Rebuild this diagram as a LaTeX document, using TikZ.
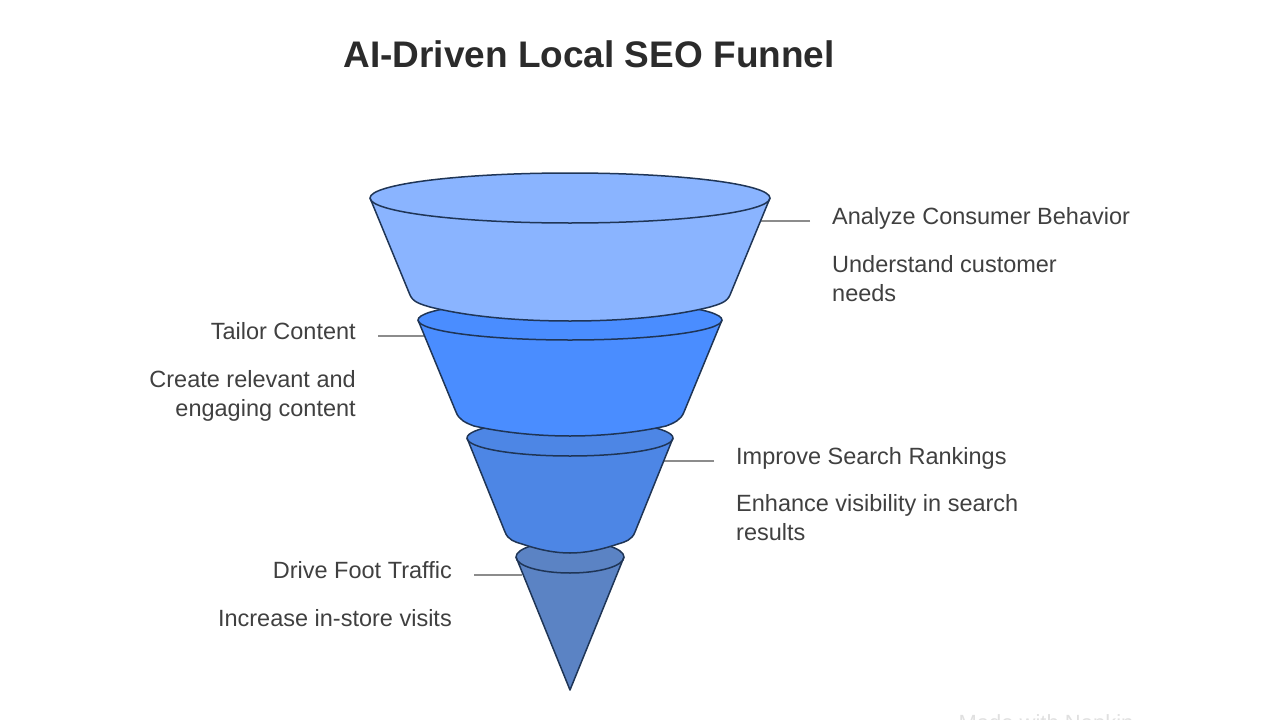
\documentclass[tikz,border=0pt]{standalone}
\usepackage{fontspec}
\setmainfont{Liberation Sans}

\definecolor{edgeNavy}{HTML}{1F3556}
\definecolor{leaderGray}{HTML}{8C8C8C}
\definecolor{textGray}{HTML}{404040}
\definecolor{titleGray}{HTML}{2B2B2B}
\definecolor{segOne}{HTML}{8AB4FF}
\definecolor{segTwo}{HTML}{4A8DFF}
\definecolor{segThree}{HTML}{4D86E5}
\definecolor{segFour}{HTML}{5B83C4}

\tikzset{
    segment/.style={draw=edgeNavy, line width=1.5pt, line join=round},
    leader/.style={draw=leaderGray, line width=2.5pt},
    heading/.style={text=textGray, inner sep=0pt, font=\fontsize{23.5}{29}\selectfont},
    detail/.style={text=textGray, inner sep=0pt, font=\fontsize{23.5}{29}\selectfont},
}

\begin{document}
\begin{tikzpicture}[x=1pt, y=-1pt]

    \useasboundingbox (0,0) rectangle (1280,720);

    % Title
    \node[anchor=base, inner sep=0pt, text=titleGray, font=\fontsize{37}{44}\selectfont\bfseries] at (589, 67) (title) {AI-Driven Local SEO Funnel};

    % Leader ends
    \coordinate (seg1Edge) at (757, 221);
    \coordinate (seg2Edge) at (425, 336);
    \coordinate (seg3Edge) at (660, 461);
    \coordinate (seg4Edge) at (522, 575);

    % Labels right
    \node[heading, anchor=base west] at (832, 224) (analyze) {Analyze Consumer Behavior};
    \node[detail, anchor=base west, align=left] at (832, 301) (understand) {Understand customer\\needs};
    \node[heading, anchor=base west] at (736, 464) (improve) {Improve Search Rankings};
    \node[detail, anchor=base west, align=left] at (736, 540) (enhance) {Enhance visibility in search\\results};

    % Labels left
    \node[heading, anchor=base east] at (356, 339) (tailor) {Tailor Content};
    \node[detail, anchor=base east, align=right] at (356, 416) (create) {Create relevant and\\engaging content};
    \node[heading, anchor=base east] at (452, 578) (drive) {Drive Foot Traffic};
    \node[detail, anchor=base east] at (452, 626) (increase) {Increase in-store visits};

    % Leaders
    \coordinate (analyzeEnd) at (810, 221);
    \coordinate (tailorEnd) at (378, 336);
    \coordinate (improveEnd) at (714, 461);
    \coordinate (driveEnd) at (474, 575);
    \draw[leader] (analyzeEnd) -- (seg1Edge);
    \draw[leader] (tailorEnd) -- (seg2Edge);
    \draw[leader] (improveEnd) -- (seg3Edge);
    \draw[leader] (driveEnd) -- (seg4Edge);

    % Bottom cone
    \draw[segment, fill=segFour] (516, 557) -- (570, 690) -- (624, 557) arc[start angle=0, end angle=180, x radius=54, y radius=-16] -- cycle;
    \draw[segment] (516, 557) arc[start angle=180, end angle=0, x radius=54, y radius=16];

    % Third segment
    \draw[segment, fill=segThree] (467, 438) -- (505, 532) .. controls (508, 540) and (515, 542) .. (522, 544) .. controls (540, 550) and (555, 553) .. (570, 553) .. controls (585, 553) and (600, 550) .. (618, 544) .. controls (625, 542) and (632, 540) .. (635, 532) -- (673, 438) arc[start angle=0, end angle=180, x radius=103, y radius=-18] -- cycle;
    \draw[segment] (467, 438) arc[start angle=180, end angle=0, x radius=103, y radius=18];

    % Second segment
    \draw[segment, fill=segTwo] (418, 320) -- (456, 412) .. controls (459, 420) and (466, 423) .. (474, 426) .. controls (505, 433) and (540, 436) .. (570, 436) .. controls (600, 436) and (635, 433) .. (666, 426) .. controls (674, 423) and (681, 420) .. (684, 412) -- (722, 320) arc[start angle=0, end angle=180, x radius=152, y radius=-20] -- cycle;
    \draw[segment] (418, 320) arc[start angle=180, end angle=0, x radius=152, y radius=20];

    % Top segment
    \draw[segment, fill=segOne] (370, 198) -- (410, 295) .. controls (413, 302) and (420, 304) .. (430, 307) .. controls (470, 317) and (520, 321) .. (570, 321) .. controls (620, 321) and (670, 317) .. (710, 307) .. controls (720, 304) and (727, 302) .. (730, 295) -- (770, 198) arc[start angle=0, end angle=180, x radius=200, y radius=-25] -- cycle;
    \draw[segment] (370, 198) arc[start angle=180, end angle=0, x radius=200, y radius=25];

    % Watermark
    \node[anchor=base, inner sep=0pt, text=black!12, font=\fontsize{22}{26}\selectfont] at (1046, 730) (made) {Made with Napkin};

\end{tikzpicture}
\end{document}
